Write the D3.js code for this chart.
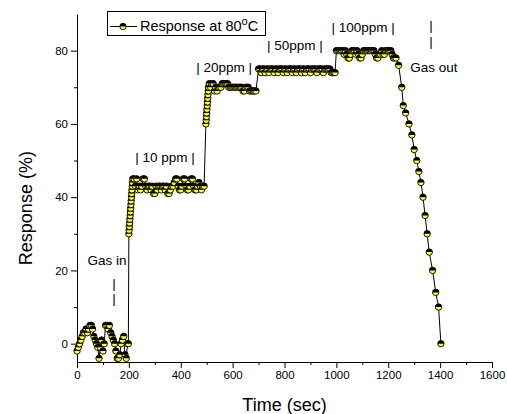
<!DOCTYPE html>
<html>
<head>
<meta charset="utf-8">
<script src="https://cdn.jsdelivr.net/npm/d3@7"></script>
<style>
  body { margin: 0; background: #fff; }
  text { font-family: "Liberation Sans", Arial, sans-serif; fill: #000; }
</style>
</head>
<body>
<div id="chart"></div>
<script>
// response of the sensor at 80 C

var timeSec = [
  // baseline before gas
  0, 5, 10, 15, 20, 25, 30, 35, 40, 45, 50, 55, 60, 65, 70, 75, 80, 85, 90, 95,
  100, 105, 110, 115, 120, 125, 130, 135, 140, 145, 150, 155, 160, 165, 170, 175, 180, 185, 190, 195, 198,
  // gas in
  200, 201, 202, 203, 204, 205, 206, 207, 208, 209, 210, 211, 212, 213, 214, 215,
  // 10 ppm
  220, 225, 230, 235, 240, 245, 250, 255, 260, 265, 270, 275, 280, 285, 290, 295, 300, 305, 310, 315,
  320, 325, 330, 335, 340, 345, 350, 355, 360, 365, 370, 375, 380, 385, 390, 395, 400, 405, 410, 415,
  420, 425, 430, 435, 440, 445, 450, 455, 460, 465, 470, 475, 480, 485, 490,
  497, 498, 499, 500, 501, 502, 503, 504, 505, 506, 507,
  // 20 ppm
  510, 515, 520, 525, 530, 535, 540, 545, 550, 555, 560, 565, 570, 575, 580, 585, 590, 595, 600, 605,
  610, 615, 620, 625, 630, 635, 640, 645, 650, 655, 660, 665, 670, 675, 680, 685, 690,
  // 50 ppm
  700, 705, 710, 715, 720, 725, 730, 735, 740, 745, 750, 755, 760, 765, 770, 775, 780, 785, 790, 795,
  800, 805, 810, 815, 820, 825, 830, 835, 840, 845, 850, 855, 860, 865, 870, 875, 880, 885, 890, 895,
  900, 905, 910, 915, 920, 925, 930, 935, 940, 945, 950, 955, 960, 965, 970, 975, 980, 985, 990, 995,
  // 100 ppm
  1000, 1005, 1010, 1015, 1020, 1025, 1030, 1035, 1040, 1045, 1050, 1055, 1060, 1065, 1070, 1075, 1080, 1085, 1090, 1095,
  1100, 1105, 1110, 1115, 1120, 1125, 1130, 1135, 1140, 1145, 1150, 1155, 1160, 1165, 1170, 1175, 1180, 1185, 1190, 1195,
  1200, 1205, 1210, 1215, 1220, 1225, 1230,
  // gas out
  1240, 1252, 1258, 1267, 1280, 1291, 1300, 1310, 1318, 1326, 1334, 1342, 1350, 1358, 1371, 1383, 1394, 1403
];

var response = [
  -2, -1, 0, 1, 2, 3, 3, 4, 3, 4, 5, 5, 4, 2, 1, 0, -1, -4, -1, 1,
  -2, 0, 5, 5, 4, 5, 3, 2, 1, 0, -2, -4, -4, -3, 0, 1, 2, -3, -4, 0, 0,
  30, 31, 32, 33, 34, 35, 36, 37, 38, 39, 40, 41, 42, 43, 44, 45,
  45, 43, 45, 42, 43, 42, 43, 45, 45, 43, 42, 43, 43, 42, 43, 41, 41, 43, 42, 43,
  43, 42, 43, 43, 42, 43, 41, 41, 42, 43, 43, 44, 45, 45, 43, 42, 42, 43, 45, 45,
  43, 42, 42, 43, 45, 45, 43, 42, 42, 43, 44, 43, 42, 43, 43,
  60, 61, 62, 63, 64, 65, 66, 67, 68, 69, 70,
  71, 70, 71, 71, 69, 70, 69, 70, 70, 70, 71, 71, 71, 71, 71, 70, 70, 70, 70, 70,
  70, 70, 70, 70, 70, 70, 69, 69, 70, 70, 70, 69, 69, 69, 69, 69, 69,
  75, 75, 74, 75, 75, 74, 75, 75, 74, 75, 75, 75, 74, 75, 75, 74, 75, 75, 75, 74,
  75, 75, 74, 75, 75, 75, 74, 75, 75, 74, 75, 75, 75, 74, 75, 75, 74, 75, 75, 75,
  74, 75, 75, 75, 75, 74, 75, 75, 75, 75, 74, 75, 75, 75, 75, 75, 74, 74, 74, 74,
  80, 80, 80, 80, 80, 80, 79, 80, 79, 78, 78, 79, 80, 80, 80, 79, 80, 79, 78, 78,
  79, 80, 80, 80, 80, 80, 80, 80, 80, 80, 79, 78, 78, 79, 79, 80, 79, 79, 80, 80,
  80, 80, 80, 79, 78, 78, 78,
  76, 70, 65, 63, 60, 57, 53, 50, 47, 44, 40, 35, 30, 25, 20, 14, 10, 0
];

var xMajorTicks = [0, 200, 400, 600, 800, 1000, 1200, 1400, 1600];
var xMinorTicks = [100, 300, 500, 700, 900, 1100, 1300, 1500];
var yMajorTicks = [0, 20, 40, 60, 80];
var yMinorTicks = [10, 30, 50, 70];

// annotations placed in data units
var noteText = ["Gas in", "|", "|", "| 10 ppm |", "| 20ppm |", "| 50ppm |", "| 100ppm |", "|", "|", "Gas out"];
var noteTime = [116, 143, 143, 339, 567, 840, 1103, 1365, 1365, 1376];
var noteResp = [21.5, 15.3, 11.2, 49.6, 74.2, 80.2, 85.1, 85.6, 81.2, 74.2];

var width = 507, height = 414;
var margin = { top: 14, right: 15, bottom: 52, left: 77 };

var svg = d3.select("#chart")
  .append("svg")
  .attr("width", width)
  .attr("height", height);

var x = d3.scaleLinear()
  .domain([0, 1600])
  .range([margin.left, width - margin.right]);
var y = d3.scaleLinear()
  .domain([-5, 90])
  .range([height - margin.bottom, margin.top]);

// axes
svg.append("g")
  .attr("transform", "translate(0," + y(-5) + ")")
  .call(d3.axisBottom(x).tickValues(xMajorTicks).tickFormat(d3.format("d"))
    .tickSize(6).tickSizeOuter(0).tickPadding(3));
svg.append("g")
  .attr("transform", "translate(0," + y(-5) + ")")
  .call(d3.axisBottom(x).tickValues(xMinorTicks).tickSize(3).tickSizeOuter(0).tickFormat(""))
  .select(".domain").remove();

svg.append("g")
  .attr("transform", "translate(" + x(0) + ",0)")
  .call(d3.axisLeft(y).tickValues(yMajorTicks).tickFormat(d3.format("d"))
    .tickSize(6).tickSizeOuter(0).tickPadding(3));
svg.append("g")
  .attr("transform", "translate(" + x(0) + ",0)")
  .call(d3.axisLeft(y).tickValues(yMinorTicks).tickSize(3).tickSizeOuter(0).tickFormat(""))
  .select(".domain").remove();

svg.selectAll(".tick text")
  .attr("fill", "#000")
  .style("font-family", "'Liberation Sans', Arial, sans-serif")
  .style("font-size", "11.5px");
svg.selectAll(".domain, .tick line").attr("stroke", "#000").attr("stroke-width", 1);

// axis titles
svg.append("text")
  .attr("x", (x(0) + x(1600)) / 2)
  .attr("y", 411)
  .attr("text-anchor", "middle")
  .attr("fill", "#000")
  .style("font-size", "18px")
  .text("Time (sec)");
svg.append("text")
  .attr("transform", "translate(32," + y(37) + ") rotate(-90)")
  .attr("text-anchor", "middle")
  .attr("fill", "#000")
  .style("font-size", "18px")
  .text("Response (%)");

var points = timeSec.map(function (t, i) { return { t: t, v: response[i] }; });

// connecting line
svg.append("path")
  .datum(points)
  .attr("fill", "none")
  .attr("stroke", "#000")
  .attr("stroke-width", 1)
  .attr("d", d3.line()
    .x(function (d) { return x(d.t); })
    .y(function (d) { return y(d.v); }));

// half-filled circle markers
var r = 3.2;
function drawMarker(g) {
  g.append("circle")
    .attr("r", r)
    .attr("fill", "#ffff33")
    .attr("stroke", "#000")
    .attr("stroke-width", 0.9);
  g.append("path")
    .attr("d", "M" + (-r) + ",0A" + r + "," + r + " 0 0 1 " + r + ",0Z")
    .attr("fill", "#000");
}

svg.append("g")
  .selectAll("g")
  .data(points)
  .enter()
  .append("g")
  .attr("transform", function (d) { return "translate(" + x(d.t) + "," + y(d.v) + ")"; })
  .each(function () { drawMarker(d3.select(this)); });

// annotations
svg.append("g")
  .selectAll("text")
  .data(noteText)
  .enter()
  .append("text")
  .attr("x", function (d, i) { return x(noteTime[i]); })
  .attr("y", function (d, i) { return y(noteResp[i]); })
  .attr("text-anchor", "middle")
  .attr("fill", "#000")
  .style("font-size", "13.5px")
  .text(function (d) { return d; });

// legend
var legend = svg.append("g");
legend.append("rect")
  .attr("x", 107.5).attr("y", 11.5)
  .attr("width", 158).attr("height", 24)
  .attr("fill", "#fff").attr("stroke", "#000").attr("stroke-width", 1);
legend.append("line")
  .attr("x1", 110).attr("x2", 137).attr("y1", 26.5).attr("y2", 26.5)
  .attr("stroke", "#000");
drawMarker(legend.append("g").attr("transform", "translate(123,26.5)"));
var lt = legend.append("text")
  .attr("x", 140).attr("y", 31)
  .attr("fill", "#000")
  .style("font-size", "14.5px");
lt.append("tspan").text("Response at 80");
lt.append("tspan").attr("dy", -6).style("font-size", "11px").text("o");
lt.append("tspan").attr("dy", 6).text("C");
</script>
</body>
</html>
